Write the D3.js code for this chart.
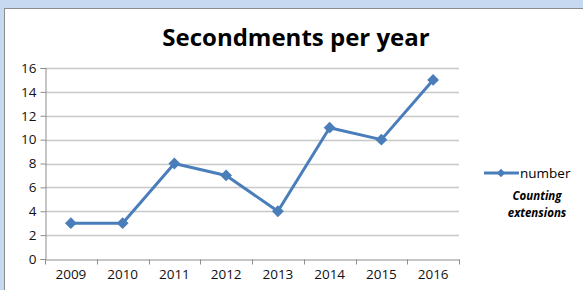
<!DOCTYPE html>
<html>
<head>
<meta charset="utf-8">
<script src="https://cdn.jsdelivr.net/npm/d3@7"></script>
<style>
  body { margin: 0; background: #c6d9f1; }
  svg { display: block; }
</style>
</head>
<body>
<script>
var years = ["2009", "2010", "2011", "2012", "2013", "2014", "2015", "2016"];
var numbers = [3, 3, 8, 7, 4, 11, 10, 15];
var yTicks = [0, 2, 4, 6, 8, 10, 12, 14, 16];

var width = 583,
	height = 290,
	lineColor = "#4a7ebb",
	font = "Open Sans, Liberation Sans, sans-serif";

var svg = d3.select("body").append("svg")
	.attr("width", width)
	.attr("height", height);

// chart area with border
svg.append("rect")
	.attr("x", 4.5).attr("y", 8.5)
	.attr("width", width).attr("height", height)
	.attr("fill", "#fff")
	.attr("stroke", "#8c8c8c");

var x = d3.scaleBand().domain(years).range([45, 459]);
var y = d3.scaleLinear().domain([0, 16]).range([259, 68]);

// gridlines
svg.append("g").selectAll("line")
	.data(yTicks.slice(1))
	.enter().append("line")
		.attr("x1", 45).attr("x2", 459)
		.attr("y1", function(d) { return Math.round(y(d)) + 0.5; })
		.attr("y2", function(d) { return Math.round(y(d)) + 0.5; })
		.attr("stroke", "#c8c8c8")
		.attr("stroke-width", 1.5);

// y axis
var yAxis = svg.append("g")
	.attr("transform", "translate(45.5,0)")
	.call(d3.axisLeft(y).tickValues(yTicks).tickSize(5).tickPadding(4));

// x axis
var xAxis = svg.append("g")
	.attr("transform", "translate(0," + (Math.round(y(0)) + 0.5) + ")")
	.call(d3.axisBottom(x).tickSize(0).tickPadding(10));

xAxis.selectAll(".tick line").remove();
xAxis.append("g").selectAll("line")
	.data(d3.range(years.length + 1))
	.enter().append("line")
		.attr("x1", function(i) { return Math.round(45 + i * x.step()) + 0.5; })
		.attr("x2", function(i) { return Math.round(45 + i * x.step()) + 0.5; })
		.attr("y1", 0).attr("y2", 5)
		.attr("stroke", "#8c8c8c");

[yAxis, xAxis].forEach(function(a) {
	a.select(".domain").attr("stroke", "#8c8c8c");
	a.selectAll(".tick line").attr("stroke", "#8c8c8c");
	a.selectAll("text")
		.attr("fill", "#111")
		.style("font-family", font)
		.style("font-size", "13.5px");
});

// series line
var line = d3.line()
	.x(function(d, i) { return x(years[i]) + x.bandwidth() / 2; })
	.y(function(d) { return y(d); });

svg.append("path")
	.datum(numbers)
	.attr("d", line)
	.attr("fill", "none")
	.attr("stroke", lineColor)
	.attr("stroke-width", 3)
	.attr("stroke-linejoin", "round");

var diamond = d3.symbol().type(d3.symbolSquare).size(70);

svg.append("g").selectAll("path")
	.data(numbers)
	.enter().append("path")
		.attr("d", diamond)
		.attr("fill", lineColor)
		.attr("transform", function(d, i) {
			return "translate(" + (x(years[i]) + x.bandwidth() / 2) + "," + y(d) + ") rotate(45)";
		});

// title
svg.append("text")
	.attr("x", 296).attr("y", 46)
	.attr("text-anchor", "middle")
	.style("font-family", font)
	.style("font-weight", "bold")
	.style("font-size", "24px")
	.text("Secondments per year");

// legend
var legend = svg.append("g").attr("transform", "translate(484,173)");
legend.append("line")
	.attr("x1", 0).attr("x2", 35)
	.attr("stroke", lineColor)
	.attr("stroke-width", 3);
legend.append("path")
	.attr("d", d3.symbol().type(d3.symbolSquare).size(36))
	.attr("fill", lineColor)
	.attr("transform", "translate(17,0) rotate(45)");
legend.append("text")
	.attr("x", 36).attr("y", 5)
	.style("font-family", font)
	.style("font-size", "13.5px")
	.text("number");

svg.append("g").selectAll("text")
	.data(["Counting", "extensions"])
	.enter().append("text")
		.attr("x", 537)
		.attr("y", function(d, i) { return 200 + i * 17; })
		.attr("text-anchor", "middle")
		.style("font-family", font)
		.style("font-weight", "bold")
		.style("font-style", "italic")
		.style("font-size", "11.5px")
		.text(function(d) { return d; });
</script>
</body>
</html>
